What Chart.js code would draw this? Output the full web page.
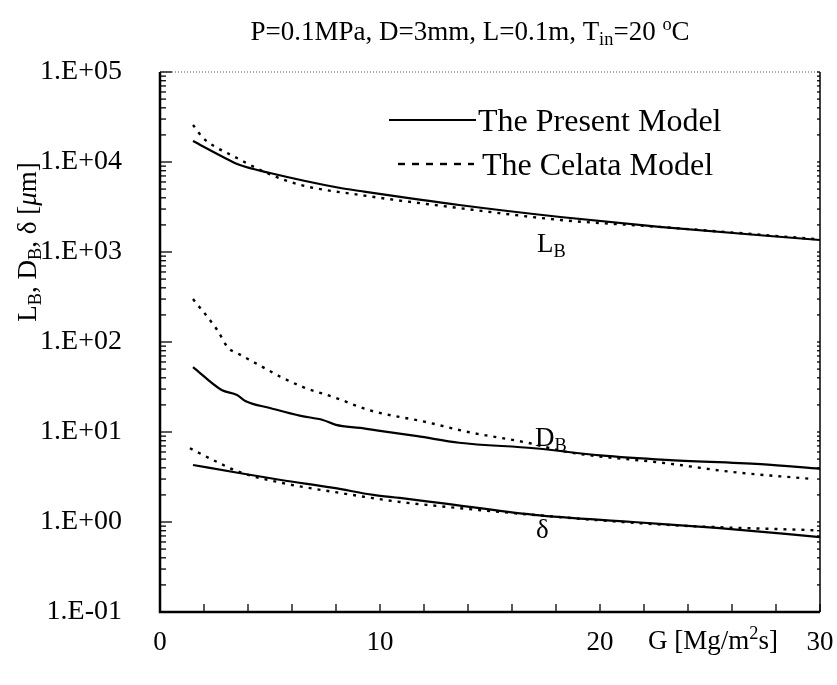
<!DOCTYPE html>
<html>
<head>
<meta charset="utf-8">
<script src="https://cdn.jsdelivr.net/npm/chart.js@4/dist/chart.umd.min.js"></script>
<style>
  html, body { margin: 0; padding: 0; background: #fff; }
  #wrap { width: 837px; height: 685px; position: relative; }
</style>
</head>
<body>
<div id="wrap"><canvas id="chart"></canvas></div>
<script>
// G [Mg/m2s] and values in micrometres
const gPresentLB = [1.5, 2.95, 3.6, 5, 8.2, 9.1, 13.6, 18.2, 22.7, 30];
const presentLB  = [17100, 11100, 9300, 7550, 5140, 4760, 3330, 2450, 1900, 1360];

const gCelataLB = [1.5, 1.95, 2.5, 3.05, 5, 6.4, 9.1, 13.6, 18.2, 22.7, 30];
const celataLB  = [25800, 18600, 14800, 12600, 7300, 5550, 4300, 3080, 2270, 1900, 1380];

const gPresentDB = [1.5, 2.8, 3.5, 3.9, 5, 6.4, 7.4, 8.0, 9.1, 10, 11.7, 13.6, 17, 20, 23, 27.3, 30];
const presentDB  = [52.7, 29.3, 25.8, 22, 18.5, 15.1, 13.6, 12, 11.1, 10.3, 9.0, 7.6, 6.6, 5.5, 4.9, 4.4, 3.9];

const gCelataDB = [1.5, 2.6, 3.1, 3.5, 4.5, 5.5, 6.5, 8, 9.5, 12.1, 14, 16.7, 18.5, 23, 26, 29.7];
const celataDB  = [300, 136, 86, 75.5, 55.5, 40.8, 31.6, 23.9, 17.5, 12.9, 10, 7.6, 6.0, 4.5, 3.6, 3.0];

const gPresentD = [1.5, 3.6, 5.5, 7.9, 9.7, 10.9, 12.7, 17, 21.5, 25.3, 30];
const presentD  = [4.3, 3.5, 2.93, 2.39, 2.0, 1.85, 1.63, 1.2, 1.0, 0.86, 0.68];

const gCelataD = [1.36, 2.4, 3.6, 5.6, 8.2, 10.9, 12.7, 15.5, 23, 29.7];
const celataD  = [6.6, 4.9, 3.6, 2.7, 2.1, 1.67, 1.5, 1.29, 0.93, 0.81];

const decades = [-1, 0, 1, 2, 3, 4, 5];
const xTickLabels = [0, 10, 20, 30];

const SERIF = '"Liberation Serif", "DejaVu Serif", serif';

function pts(xs, ys) {
  return xs.map((x, i) => ({ x: x, y: ys[i] }));
}

function solid(label, xs, ys) {
  return { label: label, data: pts(xs, ys), borderColor: '#000', borderWidth: 2.2,
           pointRadius: 0, fill: false, cubicInterpolationMode: 'monotone' };
}
function dotted(label, xs, ys) {
  return { label: label, data: pts(xs, ys), borderColor: '#000', borderWidth: 2.4,
           borderDash: [3, 6], pointRadius: 0, fill: false, cubicInterpolationMode: 'monotone' };
}

// draw text made of pieces, some as sub/superscripts
function drawRich(ctx, segs, x, y, size, align) {
  const widths = segs.map(s => {
    const fs = (s.sub || s.sup) ? size * 0.68 : size;
    ctx.font = (s.italic ? 'italic ' : '') + fs + 'px ' + SERIF;
    return ctx.measureText(s.t).width;
  });
  const total = widths.reduce((a, b) => a + b, 0);
  let cx = align === 'center' ? x - total / 2 : (align === 'right' ? x - total : x);
  ctx.textBaseline = 'alphabetic';
  ctx.textAlign = 'left';
  segs.forEach((s, i) => {
    const fs = (s.sub || s.sup) ? size * 0.68 : size;
    ctx.font = (s.italic ? 'italic ' : '') + fs + 'px ' + SERIF;
    let dy = 0;
    if (s.sub) dy = size * 0.2;
    if (s.sup) dy = -size * 0.38;
    ctx.fillText(s.t, cx, y + dy);
    cx += widths[i];
  });
}

const decor = {
  id: 'decor',
  afterDraw(chart) {
    const ctx = chart.ctx;
    const a = chart.chartArea;
    const xs = chart.scales.x, ys = chart.scales.y;
    ctx.save();
    ctx.fillStyle = '#000';
    ctx.strokeStyle = '#000';

    // frame
    ctx.lineWidth = 2.5;
    ctx.beginPath();
    ctx.moveTo(a.left, a.top); ctx.lineTo(a.left, a.bottom); ctx.lineTo(a.right, a.bottom);
    ctx.stroke();
    ctx.lineWidth = 1.5;
    ctx.beginPath();
    ctx.moveTo(a.right, a.top); ctx.lineTo(a.right, a.bottom);
    ctx.stroke();
    ctx.lineWidth = 1.2;
    ctx.strokeStyle = '#555';
    ctx.setLineDash([1, 2]);
    ctx.beginPath();
    ctx.moveTo(a.left, a.top); ctx.lineTo(a.right, a.top);
    ctx.stroke();
    ctx.setLineDash([]);
    ctx.strokeStyle = '#000';

    // inward ticks
    ctx.lineWidth = 1.3;
    ys.ticks.forEach(t => {
      const py = ys.getPixelForValue(t.value);
      const len = t.major ? 12 : 6;
      ctx.beginPath(); ctx.moveTo(a.left, py); ctx.lineTo(a.left + len, py); ctx.stroke();
      ctx.beginPath(); ctx.moveTo(a.right, py); ctx.lineTo(a.right - 3, py); ctx.stroke();
    });
    xs.ticks.forEach(t => {
      const px = xs.getPixelForValue(t.value);
      ctx.beginPath(); ctx.moveTo(px, a.bottom); ctx.lineTo(px, a.bottom - 8); ctx.stroke();
    });

    // title
    drawRich(ctx, [{ t: 'P=0.1MPa, D=3mm, L=0.1m, T' }, { t: 'in', sub: true }, { t: '=20 ' },
                   { t: 'o', sup: true }, { t: 'C' }], 470, 40, 27, 'center');

    // y axis title
    ctx.save();
    ctx.translate(36, 242);
    ctx.rotate(-Math.PI / 2);
    drawRich(ctx, [{ t: 'L' }, { t: 'B', sub: true }, { t: ', D' }, { t: 'B', sub: true },
                   { t: ', \u03b4 [' }, { t: '\u03bc', italic: true }, { t: 'm]' }], 0, 0, 27, 'center');
    ctx.restore();

    // x axis title
    drawRich(ctx, [{ t: 'G [Mg/m' }, { t: '2', sup: true }, { t: 's]' }], 713, 649, 27, 'center');

    // curve labels
    drawRich(ctx, [{ t: 'L' }, { t: 'B', sub: true }], 537, 252, 27, 'left');
    drawRich(ctx, [{ t: 'D' }, { t: 'B', sub: true }], 535, 446, 27, 'left');
    drawRich(ctx, [{ t: '\u03b4' }], 536, 538, 27, 'left');

    // legend
    const present = chart.data.datasets[0], celata = chart.data.datasets[1];
    ctx.lineWidth = present.borderWidth;
    ctx.beginPath(); ctx.moveTo(389, 120); ctx.lineTo(476, 120); ctx.stroke();
    ctx.lineWidth = 2.4;
    ctx.setLineDash([7, 7]);
    ctx.beginPath(); ctx.moveTo(398, 164); ctx.lineTo(474, 164); ctx.stroke();
    ctx.setLineDash([]);
    drawRich(ctx, [{ t: present.label }], 478, 131, 32, 'left');
    drawRich(ctx, [{ t: celata.label }], 482, 175, 32, 'left');

    ctx.restore();
  }
};

new Chart(document.getElementById('chart'), {
  type: 'line',
  data: {
    datasets: [
      solid('The Present Model', gPresentLB, presentLB),
      dotted('The Celata Model', gCelataLB, celataLB),
      solid('D_B present', gPresentDB, presentDB),
      dotted('D_B Celata', gCelataDB, celataDB),
      solid('delta present', gPresentD, presentD),
      dotted('delta Celata', gCelataD, celataD)
    ]
  },
  options: {
    responsive: true,
    maintainAspectRatio: false,
    animation: false,
    layout: { padding: { top: 72, right: 17, left: 0, bottom: 0 } },
    plugins: { legend: { display: false }, tooltip: { enabled: false } },
    scales: {
      x: {
        type: 'linear', min: 0, max: 30,
        grid: { display: false },
        border: { display: false },
        ticks: {
          stepSize: 2, autoSkip: false, maxRotation: 0, padding: 7,
          color: '#000', font: { family: SERIF, size: 27 },
          callback: v => xTickLabels.includes(v) ? String(v) : ''
        },
        afterFit: s => { s.height = 73; s.paddingRight = 0; s.paddingLeft = 0; }
      },
      y: {
        type: 'logarithmic', min: 0.1, max: 100000,
        grid: { display: false },
        border: { display: false },
        afterBuildTicks: s => {
          const t = [];
          decades.forEach(e => {
            for (let m = 1; m <= 9; m++) {
              if (e === 5 && m > 1) break;
              t.push({ value: m * Math.pow(10, e), major: m === 1 });
            }
          });
          s.ticks = t;
        },
        ticks: {
          autoSkip: false, padding: 30, color: '#000',
          font: { family: SERIF, size: 28 },
          callback: function (v) {
            const e = Math.round(Math.log10(v));
            if (Math.abs(v - Math.pow(10, e)) > 1e-9 * Math.pow(10, e)) return '';
            return '1.E' + (e < 0 ? '-' : '+') + String(Math.abs(e)).padStart(2, '0');
          }
        },
        afterFit: s => { s.width = 160; }
      }
    }
  },
  plugins: [decor]
});
</script>
</body>
</html>
